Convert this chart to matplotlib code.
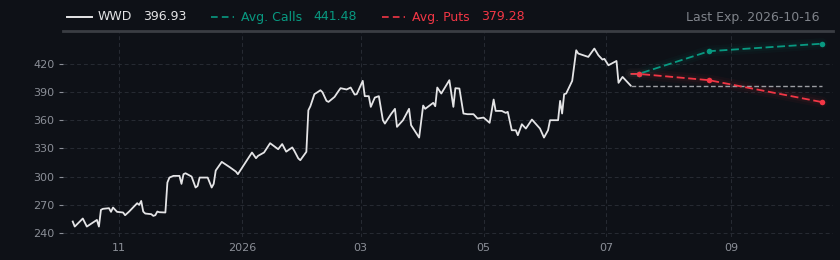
import matplotlib
matplotlib.use("Agg")
import matplotlib.pyplot as plt
import matplotlib.dates as mdates
from matplotlib.lines import Line2D
import pandas as pd

# --- data -------------------------------------------------------------------
TICKER = "WWD"

price_dates = [
    "2025-10-09", "2025-10-10", "2025-10-14", "2025-10-16", "2025-10-21", "2025-10-22",
    "2025-10-23", "2025-10-24", "2025-10-27", "2025-10-28", "2025-10-29", "2025-10-31",
    "2025-11-03", "2025-11-04", "2025-11-06", "2025-11-10", "2025-11-11", "2025-11-12",
    "2025-11-13", "2025-11-14", "2025-11-17", "2025-11-18", "2025-11-19", "2025-11-20",
    "2025-11-21", "2025-11-24", "2025-11-25", "2025-11-26", "2025-11-28", "2025-12-01",
    "2025-12-02", "2025-12-03", "2025-12-04", "2025-12-07", "2025-12-09", "2025-12-10",
    "2025-12-11", "2025-12-15", "2025-12-17", "2025-12-18", "2025-12-19", "2025-12-22",
    "2025-12-26", "2025-12-29", "2025-12-30", "2026-01-06", "2026-01-08", "2026-01-09",
    "2026-01-12", "2026-01-15", "2026-01-19", "2026-01-21", "2026-01-23", "2026-01-26",
    "2026-01-27", "2026-01-29", "2026-01-30", "2026-02-02", "2026-02-03", "2026-02-04",
    "2026-02-06", "2026-02-09", "2026-02-10", "2026-02-12", "2026-02-13", "2026-02-16",
    "2026-02-18", "2026-02-19", "2026-02-22", "2026-02-24", "2026-02-26", "2026-02-27",
    "2026-03-02", "2026-03-03", "2026-03-05", "2026-03-06", "2026-03-08", "2026-03-10",
    "2026-03-12", "2026-03-13", "2026-03-16", "2026-03-18", "2026-03-19", "2026-03-22",
    "2026-03-25", "2026-03-26", "2026-03-30", "2026-04-01", "2026-04-02", "2026-04-06",
    "2026-04-07", "2026-04-08", "2026-04-10", "2026-04-14", "2026-04-16", "2026-04-17",
    "2026-04-19", "2026-04-21", "2026-04-23", "2026-04-26", "2026-04-28", "2026-05-01",
    "2026-05-04", "2026-05-06", "2026-05-07", "2026-05-10", "2026-05-12", "2026-05-13",
    "2026-05-15", "2026-05-17", "2026-05-18", "2026-05-20", "2026-05-22", "2026-05-25",
    "2026-05-29", "2026-05-31", "2026-06-02", "2026-06-03", "2026-06-07", "2026-06-08",
    "2026-06-09", "2026-06-10", "2026-06-11", "2026-06-14", "2026-06-16", "2026-06-17",
    "2026-06-22", "2026-06-25", "2026-06-27", "2026-06-29", "2026-06-30", "2026-07-02",
    "2026-07-06", "2026-07-07", "2026-07-09", "2026-07-13",
]
price_values = [
    252.1, 246.7, 255.3, 246.7, 253.8, 246.7,
    264.5, 265.6, 266.3, 262.4, 267.0, 262.4,
    261.7, 258.8, 262.7, 271.6, 269.8, 274.0,
    262.7, 260.6, 259.9, 258.1, 258.8, 262.7,
    262.0, 261.7, 293.6, 298.9, 300.7, 300.7,
    292.2, 302.5, 303.5, 300.0, 288.3, 290.0,
    298.9, 298.9, 288.3, 292.2, 306.4, 315.6,
    309.9, 305.3, 302.5, 325.6, 319.5, 322.0,
    325.6, 335.5, 329.1, 334.6, 326.5, 331.0,
    327.5, 319.3, 317.4, 326.3, 370.6, 374.9,
    387.7, 391.9, 389.8, 380.6, 379.5, 384.8,
    391.2, 394.1, 392.7, 394.8, 387.3, 387.7,
    401.9, 385.6, 385.6, 374.2, 384.1, 385.6,
    360.0, 356.4, 366.4, 372.1, 352.9, 360.0,
    372.1, 354.7, 341.5, 375.6, 372.1, 378.5,
    374.9, 394.8, 388.4, 402.6, 374.2, 394.1,
    393.7, 367.1, 366.4, 366.4, 361.8, 362.8,
    357.2, 382.0, 369.9, 369.9, 367.8, 368.9,
    349.3, 349.3, 344.0, 355.7, 351.1, 360.7,
    351.1, 341.5, 349.3, 360.0, 360.0, 380.6,
    367.1, 387.7, 388.4, 401.9, 434.5, 431.0,
    427.4, 436.3, 429.2, 424.6, 425.3, 418.5,
    423.1, 399.8, 406.1, 396.93,
]

exp_dates = ["2026-07-17", "2026-08-21", "2026-10-16"]
avg_calls = [409.3, 433.5, 441.48]
avg_puts = [409.3, 402.6, 379.28]

y_ticks = [240, 270, 300, 330, 360, 390, 420]

# --- styling -----------------------------------------------------------------
BG = "#0e1117"
GRID = "#272b33"
TICK = "#8b8f97"
PRICE_C = "#e4e4e6"
CALL_C = "#089981"
PUT_C = "#f23645"
REF_C = "#9c9ea3"

W, H = 840, 260


def month_label(x, pos=None):
    d = mdates.num2date(x)
    return f"{d.year}" if d.month == 1 else f"{d.month:02d}"


def glow_line(ax, x, y, color):
    ax.plot(x, y, color=color, lw=8, alpha=0.045, solid_capstyle="round", zorder=2)
    ax.plot(x, y, color=color, lw=4.5, alpha=0.06, solid_capstyle="round", zorder=2)
    ax.plot(x, y, color=color, lw=1.3, dashes=(4.4, 2.0), zorder=4)
    ax.plot(x[1:], y[1:], "o", color=color, ms=4, mew=0, zorder=5)


def main():
    pdates = pd.to_datetime(price_dates)
    edates = pd.to_datetime(exp_dates)
    last_date = pdates[-1]
    last_price = price_values[-1]

    fig = plt.figure(figsize=(W / 100, H / 100), dpi=100, facecolor=BG)
    ax = fig.add_axes([63 / W, 1 - 237 / H, (833 - 63) / W, (237 - 31) / H])
    ax.set_facecolor(BG)

    ax.plot(pdates, price_values, color=PRICE_C, lw=1.3, zorder=3)

    # reference line at the last close, carried out to the last expiry
    ax.plot([last_date, edates[-1]], [last_price, last_price], color=REF_C,
            lw=1.0, dashes=(3.4, 1.8), zorder=3)

    # expiry curves start at the last close date
    cx = [last_date] + list(edates)
    glow_line(ax, cx, [avg_calls[0]] + avg_calls, CALL_C)
    glow_line(ax, cx, [avg_puts[0]] + avg_puts, PUT_C)

    ax.set_xlim(pd.Timestamp("2025-10-04 04:00"), pd.Timestamp("2026-10-21 12:00"))
    ax.set_ylim(235.6, 455)
    ax.set_yticks(y_ticks)
    ax.xaxis.set_major_locator(mdates.MonthLocator(bymonth=[1, 3, 5, 7, 9, 11]))
    ax.xaxis.set_major_formatter(plt.FuncFormatter(month_label))

    ax.grid(True, color=GRID, lw=0.7, dashes=(4, 3))
    ax.set_axisbelow(True)
    ax.tick_params(axis="x", length=0, pad=4, colors=TICK, labelsize=8)
    ax.tick_params(axis="y", length=3, width=0.8, pad=3, colors=TICK, labelsize=8)
    for s in ("left", "right", "bottom"):
        ax.spines[s].set_visible(False)
    ax.spines["top"].set_color("#3a3d43")
    ax.spines["top"].set_linewidth(2)

    # header legend
    yc = 1 - 17 / H
    fs = 9

    def fx(px):
        return px / W

    fig.add_artist(Line2D([fx(67), fx(92)], [yc, yc], color=PRICE_C, lw=1.4,
                          transform=fig.transFigure))
    fig.text(fx(98), yc, TICKER, color=PRICE_C, fontsize=fs, va="center")
    fig.text(fx(143), yc, f"{last_price:.2f}", color=PRICE_C, fontsize=fs, va="center")

    fig.add_artist(Line2D([fx(211), fx(234)], [yc, yc], color=CALL_C, lw=1.2,
                          dashes=(4, 2.5), transform=fig.transFigure))
    fig.text(fx(241), yc, "Avg. Calls", color=CALL_C, fontsize=fs, va="center")
    fig.text(fx(313), yc, f"{avg_calls[-1]:.2f}", color=CALL_C, fontsize=fs, va="center")

    fig.add_artist(Line2D([fx(382), fx(405)], [yc, yc], color=PUT_C, lw=1.2,
                          dashes=(4, 2.5), transform=fig.transFigure))
    fig.text(fx(412), yc, "Avg. Puts", color=PUT_C, fontsize=fs, va="center")
    fig.text(fx(481), yc, f"{avg_puts[-1]:.2f}", color=PUT_C, fontsize=fs, va="center")

    fig.text(fx(819), yc, f"Last Exp. {exp_dates[-1]}", color="#7f838a",
             fontsize=fs, va="center", ha="right")

    fig.savefig("out.png", dpi=100, facecolor=BG)


if __name__ == "__main__":
    main()
